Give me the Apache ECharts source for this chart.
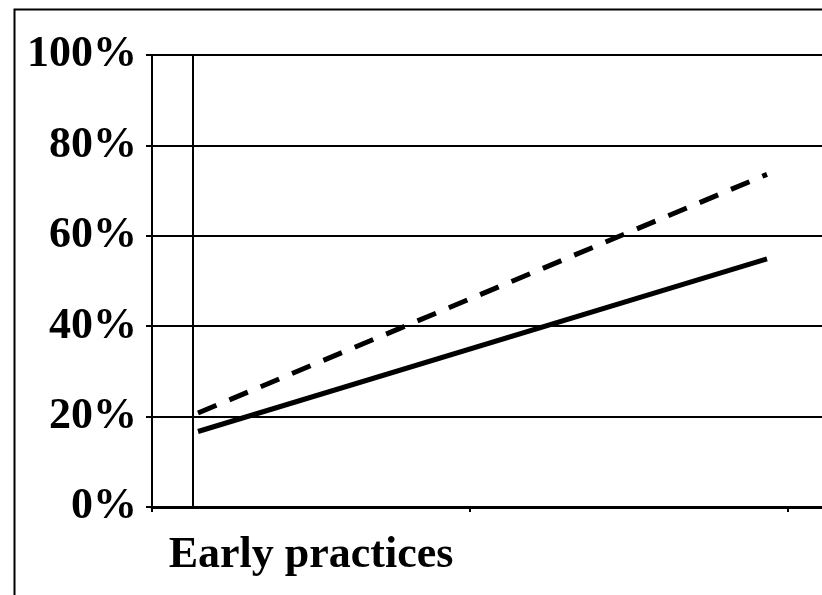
<!DOCTYPE html>
<html>
<head>
<meta charset="utf-8">
<script src="https://cdn.jsdelivr.net/npm/echarts@6/dist/echarts.min.js"></script>
<style>
html,body{margin:0;padding:0;background:#fff;}
#c{width:822px;height:595px;}
</style>
</head>
<body>
<div id="c"></div>
<script>
// Data
var categories = ['Early practices', '', ''];
var lineCategories = ['start', 'end'];
var solidValues = [16.7, 54.9];
var dashedValues = [20.8, 73.6];
var yTicks = [0, 20, 40, 60, 80, 100];

var chart = echarts.init(document.getElementById('c'), null, {renderer: 'canvas'});
var font = 'Liberation Serif, Times New Roman, serif';
var option = {
  animation: false,
  backgroundColor: '#ffffff',
  graphic: [{
    type: 'rect', left: 12, top: 7,
    shape: {width: 900, height: 700},
    style: {fill: 'none', stroke: '#000', lineWidth: 2}, silent: true
  }],
  grid: [
    {left: 152, top: 55, width: 954, height: 452, containLabel: false, outerBoundsMode: 'none'},
    {left: 198, top: 55, width: 569, height: 452, containLabel: false, outerBoundsMode: 'none'}
  ],
  xAxis: [{
    type: 'category', gridIndex: 0, data: categories, boundaryGap: true,
    axisLine: {show: true, lineStyle: {color: '#000', width: 3}},
    axisTick: {show: true, length: 5, interval: 0, lineStyle: {color: '#000', width: 2}},
    axisLabel: {show: true, interval: 0, color: '#000', fontFamily: font, fontWeight: 'bold', fontSize: 44, margin: 27},
    splitLine: {show: false}
  }, {
    type: 'category', gridIndex: 1, data: lineCategories, boundaryGap: false, show: false
  }],
  yAxis: [{
    type: 'value', gridIndex: 0, min: yTicks[0], max: yTicks[yTicks.length - 1], interval: 20,
    axisLine: {show: true, lineStyle: {color: '#000', width: 2}},
    axisTick: {show: true, length: 6, lineStyle: {color: '#000', width: 2}},
    axisLabel: {formatter: '{value}%', color: '#000', fontFamily: font, fontWeight: 'bold', fontSize: 44, margin: 15},
    splitLine: {show: true, lineStyle: {color: '#000', width: 2}}
  }, {
    type: 'value', gridIndex: 1, min: 0, max: 100, offset: 5,
    axisLine: {show: true, onZero: false, lineStyle: {color: '#000', width: 2}},
    axisTick: {show: false}, axisLabel: {show: false}, splitLine: {show: false}
  }],
  series: [{
    type: 'line', xAxisIndex: 1, yAxisIndex: 1, data: solidValues,
    symbol: 'none', lineStyle: {color: '#000', width: 5, type: 'solid', cap: 'butt'}
  }, {
    type: 'line', xAxisIndex: 1, yAxisIndex: 1, data: dashedValues,
    symbol: 'none', lineStyle: {color: '#000', width: 5, type: [20, 14], cap: 'butt'}
  }]
};
chart.setOption(option);
</script>
</body>
</html>
